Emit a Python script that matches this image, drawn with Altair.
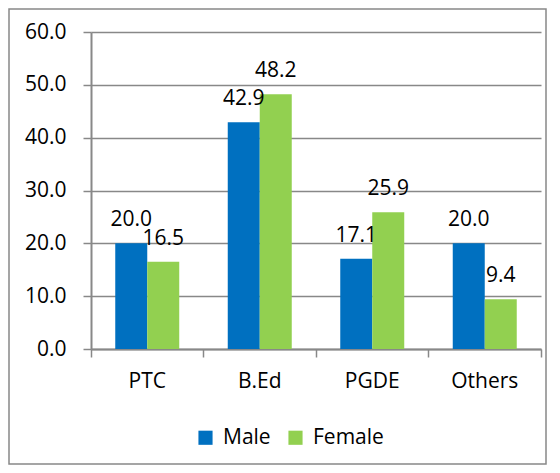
import altair as alt
import pandas as pd

categories = ["PTC", "B.Ed", "PGDE", "Others"]
genders = ["Male", "Female"]
male = [20.0, 42.9, 17.1, 20.0]
female = [16.5, 48.2, 25.9, 9.4]
colors = ["#0070C0", "#92D050"]
y_ticks = [0, 10, 20, 30, 40, 50, 60]

rows = []
for c, m, f in zip(categories, male, female):
    rows.append({"Category": c, "Gender": "Male", "Value": m})
    rows.append({"Category": c, "Gender": "Female", "Value": f})
df = pd.DataFrame(rows)

FONT = "Open Sans"
GRAY = "#888888"

x_enc = alt.X(
    "Category:N",
    sort=categories,
    scale=alt.Scale(paddingInner=0, paddingOuter=0),
    axis=alt.Axis(
        title=None, labelAngle=0, bandPosition=1, tickExtra=True,
        tickSize=8, tickColor=GRAY, tickWidth=1.5,
        domainColor=GRAY, domainWidth=2, labelPadding=13,
        labelFont=FONT, labelFontSize=21, labelColor="black", grid=False,
    ),
)
xo_enc = alt.XOffset("Gender:N", sort=genders,
                     scale=alt.Scale(paddingOuter=0.758, paddingInner=0))
y_enc = alt.Y(
    "Value:Q",
    scale=alt.Scale(domain=[0, 60], nice=False),
    axis=alt.Axis(
        title=None, values=y_ticks, format=".1f", tickSize=8, tickColor=GRAY,
        tickWidth=1.5, domainColor=GRAY, domainWidth=2, gridColor=GRAY,
        gridWidth=1.5, labelPadding=17, labelFont=FONT, labelFontSize=21,
        labelColor="black",
    ),
)

bars = alt.Chart(df).mark_bar().encode(
    x=x_enc,
    xOffset=xo_enc,
    y=y_enc,
    color=alt.Color(
        "Gender:N",
        sort=genders,
        scale=alt.Scale(domain=genders, range=colors),
        legend=alt.Legend(
            orient="none", legendX=104, legendY=395, direction="horizontal",
            title=None, symbolType="square", symbolSize=200,
            symbolStrokeWidth=0, labelFont=FONT, labelFontSize=21,
            labelColor="black", columnPadding=14, labelOffset=7,
        ),
    ),
)

labels = alt.Chart(df).mark_text(
    baseline="alphabetic", dy=-17, font=FONT, fontSize=21, color="black"
).encode(
    x=alt.X("Category:N", sort=categories),
    xOffset=alt.XOffset("Gender:N", sort=genders),
    y="Value:Q",
    text=alt.Text("Value:Q", format=".1f"),
)

frame = alt.Chart(pd.DataFrame({"a": [0]})).mark_rect(
    fill="transparent", stroke=GRAY, strokeWidth=1.5
).encode(
    x=alt.value(-82), x2=alt.value(455), y=alt.value(-23), y2=alt.value(432)
)

chart = alt.layer(bars, labels, frame).properties(
    width=450,
    height=317,
    autosize=alt.AutoSizeParams(type="none"),
    padding={"left": 83, "top": 24, "right": 6, "bottom": 116},
).configure_view(strokeWidth=0)

chart.save("out.html", embed_options={"renderer": "svg", "actions": False})
